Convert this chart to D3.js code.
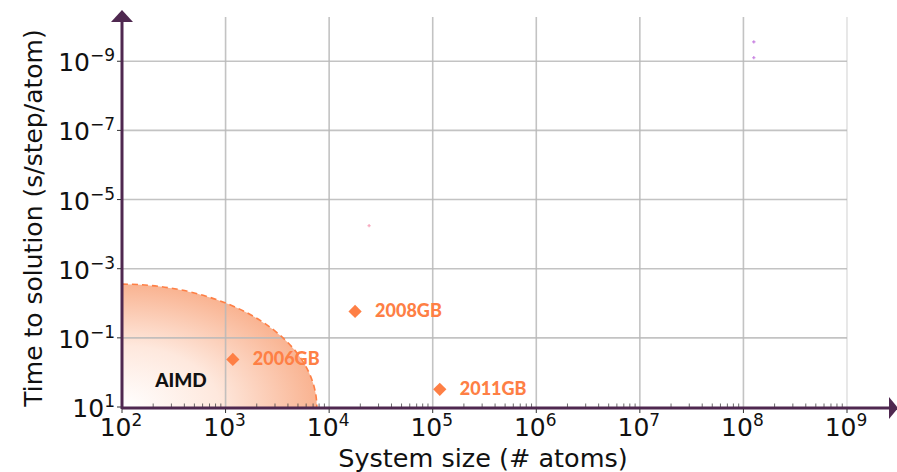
<!DOCTYPE html>
<html>
<head>
<meta charset="utf-8">
<script src="https://cdn.jsdelivr.net/npm/d3@7"></script>
<style>
  body { margin: 0; background: #fff; }
  svg { display: block; }
</style>
</head>
<body>
<div id="chart"></div>
<script>
// data
var pointNames = ["2006GB", "2008GB", "2011GB"];
var pointAtoms = [1175, 17800, 117000];
var pointTimes = [0.42, 0.0172, 3.07];

// extent of the AIMD region (corner at 10^2 atoms, 10^1 s)
var aimdAtoms = [1e2, 7600];
var aimdTimes = [10, 0.0028];

// faint stray marks visible in the picture
var strayAtoms = [1.26e8, 1.26e8, 24300];
var strayTimes = [2.75e-10, 7.9e-10, 5.7e-5];
var strayColors = ["#c77ee0", "#c77ee0", "#f7a0b8"];

var xTickExp = [2, 3, 4, 5, 6, 7, 8, 9];
var yTickExp = [1, -1, -3, -5, -7, -9];

var svgWidth = 897;
var svgHeight = 472;
var plotLeft = 122, plotRight = 847, plotTop = 17, plotBottom = 407;
var axisColor = "#4f2850";
var orange = "#fe7f45";

var svg = d3.select("#chart").append("svg")
  .attr("width", svgWidth)
  .attr("height", svgHeight);

var x = d3.scaleLog().domain([1e2, 1e9]).range([plotLeft, plotRight]);
var y = d3.scaleLog().domain([10, Math.pow(10, -10.28)]).range([plotBottom, plotTop]);

// AIMD region: quarter ellipse, radial gradient fill
var defs = svg.append("defs");
var grad = defs.append("radialGradient")
  .attr("id", "aimdGrad")
  .attr("cx", 0).attr("cy", 1).attr("r", 1)
  .attr("fx", 0).attr("fy", 1);
grad.append("stop").attr("offset", "0%").attr("stop-color", "#ffffff");
grad.append("stop").attr("offset", "50%").attr("stop-color", "#fee8dd");
grad.append("stop").attr("offset", "100%").attr("stop-color", "#f9b391");

var x0 = x(aimdAtoms[0]), x1 = x(aimdAtoms[1]);
var y0 = y(aimdTimes[0]), y1 = y(aimdTimes[1]);
var rx = x1 - x0, ry = y0 - y1;

svg.append("path")
  .attr("d", `M${x0},${y0} L${x0},${y1} A${rx},${ry} 0 0 1 ${x1},${y0} Z`)
  .attr("fill", "url(#aimdGrad)");

// grid
var grid = svg.append("g");
grid.selectAll("line.v")
  .data(xTickExp.slice(1))
  .enter().append("line")
  .attr("x1", d => x(Math.pow(10, d)))
  .attr("x2", d => x(Math.pow(10, d)))
  .attr("y1", plotTop).attr("y2", plotBottom)
  .attr("stroke", d => d === 9 ? "#dcdcdc" : "#b8b8b8")
  .attr("stroke-opacity", 0.85)
  .attr("stroke-width", 1.6);
grid.selectAll("line.h")
  .data(yTickExp.slice(1))
  .enter().append("line")
  .attr("x1", plotLeft).attr("x2", plotRight)
  .attr("y1", d => y(Math.pow(10, d)))
  .attr("y2", d => y(Math.pow(10, d)))
  .attr("stroke", "#b8b8b8")
  .attr("stroke-opacity", 0.85)
  .attr("stroke-width", 1.6);

// dashed outline of the AIMD region
svg.append("path")
  .attr("d", `M${x0},${y1} A${rx},${ry} 0 0 1 ${x1},${y0}`)
  .attr("fill", "none")
  .attr("stroke", orange)
  .attr("stroke-width", 1.6)
  .attr("stroke-dasharray", "6,4");

svg.append("text")
  .attr("x", 181).attr("y", 387)
  .attr("text-anchor", "middle")
  .style("font-family", "Lato, 'Open Sans', sans-serif")
  .style("font-weight", "900")
  .style("font-size", "19px")
  .attr("fill", "#111")
  .text("AIMD");

// x minor ticks
var minor = [];
for (var e = 2; e < 9; e++) {
  for (var m = 2; m < 10; m++) minor.push(m * Math.pow(10, e));
}
svg.selectAll("line.minor")
  .data(minor)
  .enter().append("line")
  .attr("x1", d => x(d)).attr("x2", d => x(d))
  .attr("y1", plotBottom).attr("y2", plotBottom - 3.5)
  .attr("stroke", "#444")
  .attr("stroke-width", 0.8);

// axes lines with arrows
svg.append("line")
  .attr("x1", plotLeft).attr("x2", 890)
  .attr("y1", plotBottom + 1).attr("y2", plotBottom + 1)
  .attr("stroke", axisColor).attr("stroke-width", 3);
svg.append("path")
  .attr("d", `M889,${plotBottom + 1 - 11} L898,${plotBottom + 1} L889,${plotBottom + 1 + 11} Z`)
  .attr("fill", axisColor);
svg.append("line")
  .attr("x1", plotLeft).attr("x2", plotLeft)
  .attr("y1", plotBottom + 2).attr("y2", 20)
  .attr("stroke", axisColor).attr("stroke-width", 3);
svg.append("path")
  .attr("d", `M${plotLeft - 11},22 L${plotLeft},10 L${plotLeft + 11},22 Z`)
  .attr("fill", axisColor);

// major ticks
svg.selectAll("line.xt")
  .data(xTickExp)
  .enter().append("line")
  .attr("x1", d => x(Math.pow(10, d))).attr("x2", d => x(Math.pow(10, d)))
  .attr("y1", plotBottom + 2).attr("y2", plotBottom + 6)
  .attr("stroke", "#333").attr("stroke-width", 1);
svg.selectAll("line.yt")
  .data(yTickExp)
  .enter().append("line")
  .attr("x1", plotLeft - 5).attr("x2", plotLeft - 1)
  .attr("y1", d => y(Math.pow(10, d))).attr("y2", d => y(Math.pow(10, d)))
  .attr("stroke", "#333").attr("stroke-width", 1);

var tickFont = "'DejaVu Sans', sans-serif";
function powLabel(sel, exp) {
  sel.append("tspan").text("10");
  sel.append("tspan")
    .attr("dy", -10)
    .style("font-size", "17px")
    .text(exp < 0 ? "\u2212" + (-exp) : exp);
}

svg.selectAll("text.xl")
  .data(xTickExp)
  .enter().append("text")
  .attr("x", d => x(Math.pow(10, d)) - 1)
  .attr("y", plotBottom + 29)
  .attr("text-anchor", "middle")
  .style("font-family", tickFont)
  .style("font-size", "25px")
  .attr("fill", "#111")
  .each(function(d) { powLabel(d3.select(this), d); });

svg.selectAll("text.yl")
  .data(yTickExp)
  .enter().append("text")
  .attr("x", plotLeft - 7)
  .attr("y", d => y(Math.pow(10, d)) + 10)
  .attr("text-anchor", "end")
  .style("font-family", tickFont)
  .style("font-size", "25px")
  .attr("fill", "#111")
  .each(function(d) { powLabel(d3.select(this), d); });

// axis titles
svg.append("text")
  .attr("x", 483).attr("y", 467)
  .attr("text-anchor", "middle")
  .style("font-family", tickFont)
  .style("font-size", "25.5px")
  .attr("fill", "#111")
  .text("System size (# atoms)");

svg.append("text")
  .attr("transform", "translate(42, 218) rotate(-90)")
  .attr("text-anchor", "middle")
  .style("font-family", tickFont)
  .style("font-size", "25px")
  .attr("fill", "#111")
  .text("Time to solution (s/step/atom)");

// stray marks
svg.selectAll("path.stray")
  .data(strayAtoms)
  .enter().append("path")
  .attr("d", d3.symbol().type(d3.symbolCross).size(6))
  .attr("transform", (d, i) => `translate(${x(d)},${y(strayTimes[i])})`)
  .attr("fill", (d, i) => strayColors[i]);

// GB points
var pts = svg.selectAll("g.pt")
  .data(pointNames)
  .enter().append("g")
  .attr("transform", (d, i) => `translate(${x(pointAtoms[i])},${y(pointTimes[i])})`);

pts.append("path")
  .attr("d", d3.symbol().type(d3.symbolSquare).size(88))
  .attr("transform", "rotate(45)")
  .attr("fill", orange);

pts.append("text")
  .attr("x", 20).attr("y", 6)
  .style("font-family", "Lato, 'Open Sans', sans-serif")
  .style("font-weight", "900")
  .style("font-size", "18px")
  .attr("fill", orange)
  .text(d => d);
</script>
</body>
</html>
